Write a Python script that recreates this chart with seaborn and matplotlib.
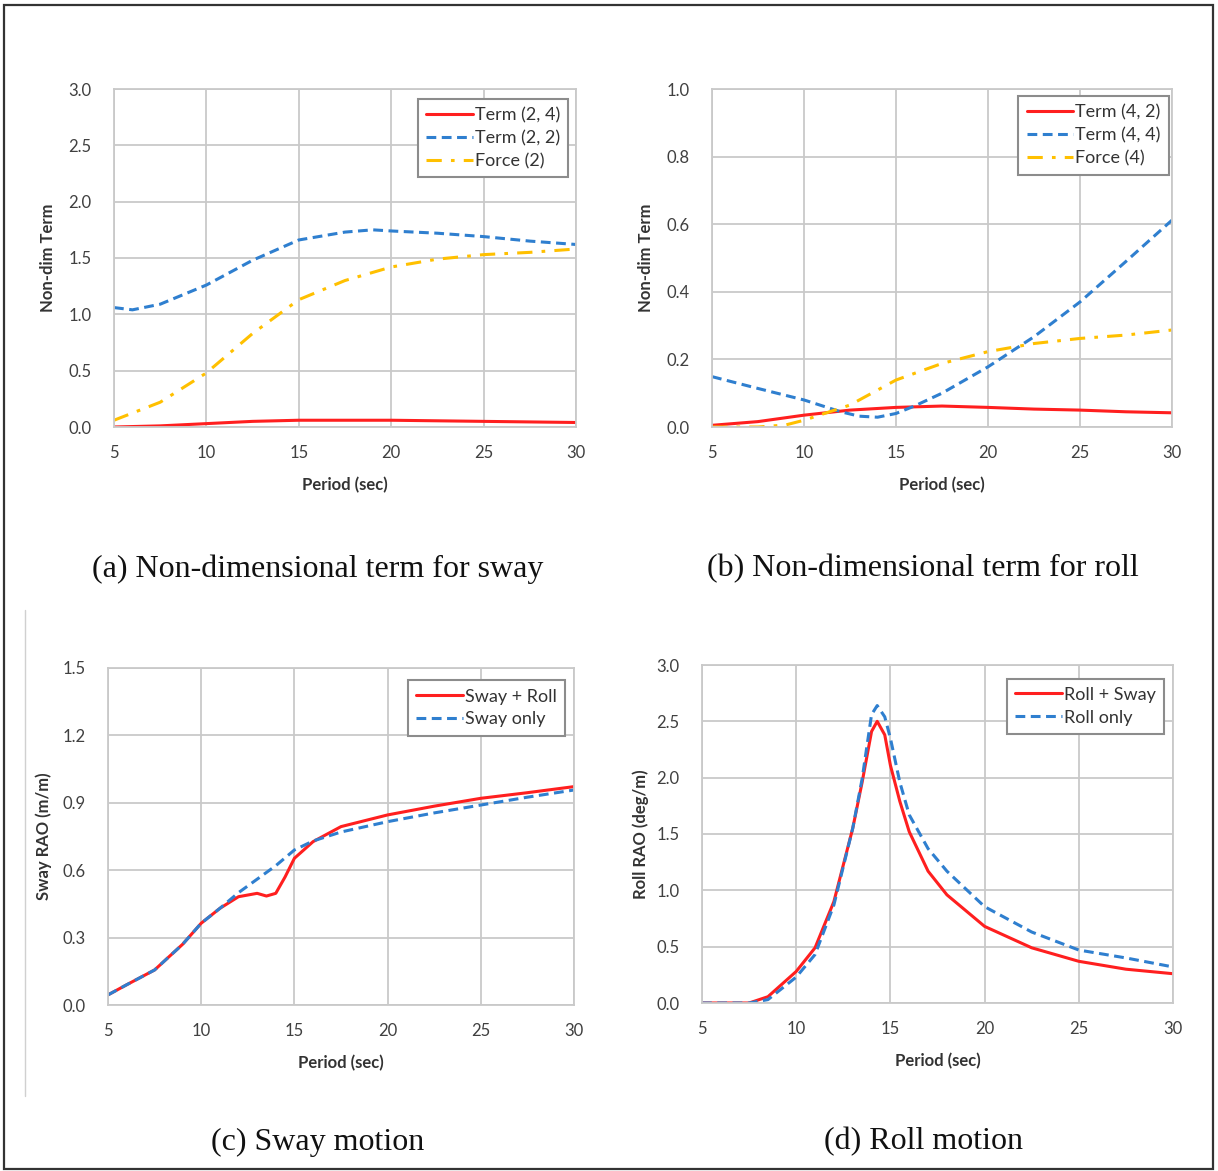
import numpy as np
import pandas as pd
import seaborn as sns
import matplotlib
matplotlib.use("Agg")
import matplotlib.pyplot as plt
from matplotlib.patches import Rectangle
from matplotlib.lines import Line2D

# ---------------- data ----------------
# (a) sway non-dimensional terms
a_t22 = [5, 6, 7.5, 10, 12.5, 15, 17.5, 19, 20, 22.5, 25, 27.5, 30]
a_v22 = [1.06, 1.04, 1.09, 1.26, 1.48, 1.66, 1.73, 1.75, 1.74, 1.72, 1.69, 1.65, 1.62]
a_tf2 = [5, 7.5, 10, 12.5, 14, 15, 17.5, 20, 22.5, 25, 27.5, 30]
a_vf2 = [0.06, 0.22, 0.48, 0.83, 1.01, 1.13, 1.30, 1.42, 1.49, 1.53, 1.55, 1.58]
a_t24 = [5, 7.5, 10, 12.5, 15, 17.5, 20, 22.5, 25, 27.5, 30]
a_v24 = [0.0, 0.01, 0.03, 0.05, 0.06, 0.06, 0.06, 0.055, 0.05, 0.045, 0.04]

# (b) roll non-dimensional terms
b_t42 = [5, 7.5, 10, 12.5, 15, 17.5, 20, 22.5, 25, 27.5, 30]
b_v42 = [0.005, 0.016, 0.035, 0.05, 0.058, 0.062, 0.058, 0.053, 0.05, 0.045, 0.042]
b_t44 = [5, 7.5, 10, 12, 13, 14, 15, 16, 17.5, 20, 22.5, 25, 27.5, 30]
b_v44 = [0.149, 0.114, 0.08, 0.045, 0.032, 0.029, 0.04, 0.062, 0.10, 0.178, 0.267, 0.37, 0.49, 0.612]
b_tf4 = [5, 7.5, 9, 10, 12.5, 15, 17.5, 20, 22.5, 25, 27.5, 30]
b_vf4 = [0.0, 0.0, 0.006, 0.02, 0.065, 0.139, 0.188, 0.223, 0.247, 0.262, 0.272, 0.287]

# (c) sway motion
c_t = [5, 6, 7.5, 9, 10, 11, 12, 13, 13.5, 14, 14.5, 15, 16, 17.5, 20, 22.5, 25, 27.5, 30]
c_sway_roll = [0.045, 0.09, 0.156, 0.27, 0.364, 0.43, 0.482, 0.497, 0.485, 0.497, 0.57, 0.653, 0.727, 0.794, 0.846, 0.885, 0.92, 0.945, 0.972]
c_sway_only = [0.045, 0.09, 0.156, 0.27, 0.364, 0.43, 0.50, 0.56, 0.59, 0.62, 0.655, 0.69, 0.73, 0.77, 0.816, 0.855, 0.89, 0.925, 0.957]

# (d) roll motion
d_t = [5, 6, 7.5, 8.5, 10, 11, 12, 13, 13.5, 14, 14.3, 14.7, 15, 15.5, 16, 17, 18, 20, 22.5, 25, 27.5, 30]
d_roll_sway = [0.0, 0.0, 0.0, 0.056, 0.28, 0.49, 0.90, 1.55, 1.96, 2.41, 2.50, 2.38, 2.11, 1.79, 1.52, 1.17, 0.96, 0.68, 0.49, 0.37, 0.30, 0.26]
d_roll_only = [0.0, 0.0, 0.0, 0.03, 0.23, 0.43, 0.87, 1.55, 1.99, 2.56, 2.64, 2.54, 2.35, 1.96, 1.67, 1.37, 1.17, 0.855, 0.63, 0.47, 0.40, 0.32]

x_ticks = [5, 10, 15, 20, 25, 30]

# ---------------- style ----------------
sns.set_style("white")
plt.rcParams['font.family'] = ['Lato', 'DejaVu Sans']

RED = "#FF1F1F"
BLUE = "#2F7FCF"
YEL = "#FFC000"
GRID = "#C9C9C9"
TXT = "#404040"
DASH = (0, (3.2, 1.8))
DASHDOT = (0, (5, 3, 1.2, 3))
LW = 2.2

fig = plt.figure(figsize=(12.18, 11.71), dpi=100)

def mkax(l, t, r, b):
    W, H = 1218, 1171
    return fig.add_axes([l / W, 1 - b / H, (r - l) / W, (b - t) / H])

def style_ax(ax, ymax, ystep, ylabel, ylx):
    ax.set_xlim(5, 30)
    ax.set_ylim(0, ymax)
    ax.set_xticks(x_ticks)
    yt = np.arange(0, ymax + ystep / 2, ystep)
    ax.set_yticks(yt)
    ax.set_yticklabels([f"{v:.1f}" for v in yt])
    ax.grid(True, color=GRID, lw=1.3)
    for s in ax.spines.values():
        s.set_color(GRID)
        s.set_linewidth(1.3)
    ax.tick_params(axis='both', length=0, labelsize=12, labelcolor=TXT)
    ax.tick_params(axis='y', pad=16)
    ax.tick_params(axis='x', pad=13)
    ax.set_xlabel("Period (sec)", fontsize=12, fontweight='bold', color="#333333")
    ax.set_ylabel(ylabel, fontsize=12, fontweight='bold', color="#333333")
    ax.xaxis.set_label_coords(0.5, -0.148)
    ax.yaxis.set_label_coords(ylx, 0.5)

def leg(ax, loc_bbox):
    lg = ax.legend(loc='upper right', bbox_to_anchor=loc_bbox, fontsize=13, frameon=True,
                   fancybox=False, edgecolor="#8C8C8C", framealpha=1, handlelength=2.6,
                   handletextpad=0.1, borderpad=0.45, labelspacing=0.38, borderaxespad=0)
    lg.get_frame().set_linewidth(1.5)
    for t in lg.get_texts():
        t.set_color("#333333")

# (a)
ax = mkax(114, 89, 576, 427)
sns.lineplot(x=a_t24, y=a_v24, ax=ax, color=RED, lw=LW, label="Term (2, 4)")
sns.lineplot(x=a_t22, y=a_v22, ax=ax, color=BLUE, lw=LW, linestyle=DASH, label="Term (2, 2)")
sns.lineplot(x=a_tf2, y=a_vf2, ax=ax, color=YEL, lw=LW, linestyle=DASHDOT, label="Force (2)")
style_ax(ax, 3.0, 0.5, "Non-dim Term", -0.126)
leg(ax, (0.983, 0.97))

# (b)
ax = mkax(712, 89, 1172, 427)
sns.lineplot(x=b_t42, y=b_v42, ax=ax, color=RED, lw=LW, label="Term (4, 2)")
sns.lineplot(x=b_t44, y=b_v44, ax=ax, color=BLUE, lw=LW, linestyle=DASH, label="Term (4, 4)")
sns.lineplot(x=b_tf4, y=b_vf4, ax=ax, color=YEL, lw=LW, linestyle=DASHDOT, label="Force (4)")
style_ax(ax, 1.0, 0.2, "Non-dim Term", -0.126)
leg(ax, (0.993, 0.978))

# (c)
ax = mkax(108, 668, 574, 1005)
sns.lineplot(x=c_t, y=c_sway_roll, ax=ax, color=RED, lw=LW, label="Sway + Roll")
sns.lineplot(x=c_t, y=c_sway_only, ax=ax, color=BLUE, lw=LW, linestyle=DASH, label="Sway only")
style_ax(ax, 1.5, 0.3, "Sway RAO (m/m)", -0.12)
leg(ax, (0.98, 0.963))

# (d)
ax = mkax(702, 665, 1173, 1003)
sns.lineplot(x=d_t, y=d_roll_sway, ax=ax, color=RED, lw=LW, label="Roll + Sway")
sns.lineplot(x=d_t, y=d_roll_only, ax=ax, color=BLUE, lw=LW, linestyle=DASH, label="Roll only")
style_ax(ax, 3.0, 0.5, "Roll RAO (deg/m)", -0.113)
leg(ax, (0.98, 0.96))

# captions
cap_font = dict(family=['Liberation Serif', 'DejaVu Serif'], fontsize=23, color="#111111",
                ha='center', va='center')
fig.text(318 / 1218, 1 - 569 / 1171, "(a) Non-dimensional term for sway", **cap_font)
fig.text(923 / 1218, 1 - 569 / 1171, "(b) Non-dimensional term for roll", **cap_font)
fig.text(318 / 1218, 1 - 1142 / 1171, "(c) Sway motion", **cap_font)
fig.text(923 / 1218, 1 - 1142 / 1171, "(d) Roll motion", **cap_font)

# outer frame and thin separator
fig.add_artist(Rectangle((4 / 1218, 1 - 1169 / 1171), 1209 / 1218, 1164 / 1171,
                         transform=fig.transFigure, fill=False, edgecolor="#333333", lw=1.6))
fig.add_artist(Line2D([25 / 1218, 25 / 1218], [1 - 610 / 1171, 1 - 1096 / 1171],
                      transform=fig.transFigure, color="#D0D0D0", lw=1))

fig.savefig("out.png", dpi=100, facecolor="white")
